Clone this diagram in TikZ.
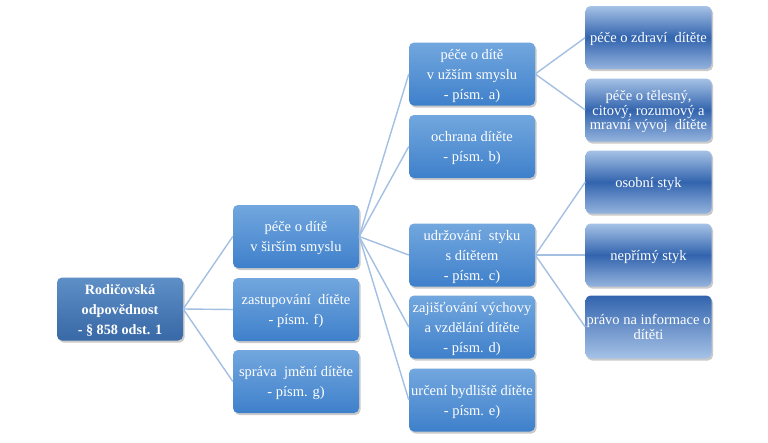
\documentclass[tikz,border=0pt]{standalone}
\usepackage{fontspec}
\setmainfont{Liberation Serif}
\usetikzlibrary{shadows}
\definecolor{rootTop}{HTML}{5E8FC6}
\definecolor{rootBot}{HTML}{3868A6}
\definecolor{midTop}{HTML}{72A7DE}
\definecolor{midBot}{HTML}{3F80CB}
\definecolor{leafLight}{HTML}{A6C2E6}
\definecolor{leafLight2}{HTML}{94B3DE}
\definecolor{leafDark}{HTML}{3264AE}
\definecolor{linkc}{HTML}{A3BFE2}
\begin{document}
\begin{tikzpicture}[x=1pt,y=-1pt,
  box/.style={rounded corners=5pt, minimum width=126pt, minimum height=63pt, inner sep=0.5pt,
    align=center, text=white, font=\fontsize{14.5}{20}\selectfont, text depth=0pt,
    drop shadow={shadow xshift=1.5pt, shadow yshift=-2pt, opacity=0.35, fill=black!60}},
  rootbox/.style={box, top color=rootTop, bottom color=rootBot, font=\fontsize{14.2}{20}\selectfont\bfseries},
  midbox/.style={box, top color=midTop, bottom color=midBot},
  leafbox/.style={box, top color=leafLight, bottom color=leafLight2, middle color=leafDark},
  leafinv/.style={box, top color=leafDark, bottom color=leafLight},
  link/.style={draw=linkc, line width=1.4pt}
]
\useasboundingbox (0,0) rectangle (768,442);

\node[rootbox] (root) at (120,309) {Rodičovská\\odpovědnost\\- § 858 odst. 1};

\node[midbox] (sir) at (296,236.5) {péče o dítě\\v širším smyslu};
\node[midbox] (zast) at (296,309.5) {zastupování \ dítěte\\- písm. f)};
\node[midbox] (sprava) at (296,381.5) {správa \ jmění dítěte\\- písm. g)};

\node[midbox] (uzs) at (472,74) {péče o dítě\\v užším smyslu\\- písm. a)};
\node[midbox] (ochr) at (472,146.5) {ochrana dítěte\\- písm. b)};
\node[midbox] (udrz) at (472,255) {udržování \ styku\\s dítětem\\- písm. c)};
\node[midbox] (zaj) at (472,327) {zajišťování výchovy\\a vzdělání dítěte\\- písm. d)};
\node[midbox] (urc) at (472,400) {určení bydliště dítěte\\- písm. e)};

\node[leafbox] (zdr) at (648.5,37.5) {péče o zdraví \ dítěte};
\node[leafbox, font=\fontsize{14.5}{14.5}\selectfont] (tel) at (648.5,110) {péče o tělesný,\\citový, rozumový a\\mravní vývoj \ dítěte};
\node[leafbox] (osob) at (648.5,182) {osobní styk};
\node[leafbox] (nepr) at (648.5,255) {nepřímý styk};
\node[leafinv, font=\fontsize{14.5}{15.5}\selectfont] (prav) at (648.5,327) {právo na informace o\\dítěti};

\foreach \c in {sir,zast,sprava} \draw[link] (root.east) -- (\c.west);
\foreach \c in {uzs,ochr,udrz,zaj,urc} \draw[link] (sir.east) -- (\c.west);
\foreach \c in {zdr,tel} \draw[link] (uzs.east) -- (\c.west);
\foreach \c in {osob,nepr,prav} \draw[link] (udrz.east) -- (\c.west);
\end{tikzpicture}
\end{document}
